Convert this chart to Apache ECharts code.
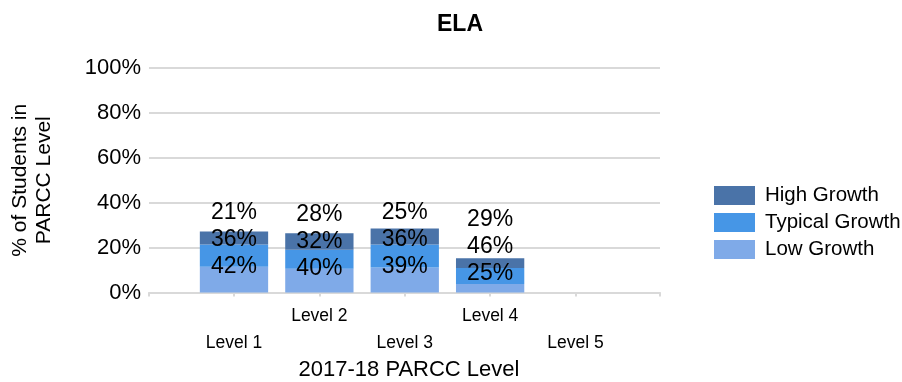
<!DOCTYPE html>
<html>
<head>
<meta charset="utf-8">
<script src="https://cdn.jsdelivr.net/npm/echarts@6/dist/echarts.min.js"></script>
<style>
  html, body { margin: 0; padding: 0; background: #fff; }
  #chart { width: 902px; height: 382px; }
</style>
</head>
<body>
<div id="chart"></div>
<script>
// 2017-18 PARCC levels on the x axis
const levels = ['Level 1', 'Level 2', 'Level 3', 'Level 4', 'Level 5'];
// share of students in each level (% of all students), '-' = no students
const levelTotals = [27.4, 26.4, 28.5, 15.3, '-'];
// growth split within each level (% of that level)
const lowGrowth = [42, 40, 39, 25, '-'];
const typicalGrowth = [36, 32, 36, 46, '-'];
const highGrowth = [21, 28, 25, 29, '-'];
const yTicks = [0, 20, 40, 60, 80, 100];

const FONT = '"Liberation Sans", Arial, sans-serif';
const colors = { high: '#4a73a8', typical: '#4696e6', low: '#7faae8' };

// segment heights = level total x growth share
function segment(shares) {
  return shares.map((s, i) => (s === '-' ? '-' : +(levelTotals[i] * s / 100).toFixed(2)));
}
const lowSeg = segment(lowGrowth);
const typSeg = segment(typicalGrowth);
const highSeg = segment(highGrowth);

// label stack anchor: top of the low segment, kept clear of the axis
const labelAnchor = lowSeg.map((v, i) => (v === '-' ? null : [i, Math.max(v, 8.2)]))
  .filter(d => d !== null);

const chart = echarts.init(document.getElementById('chart'), null, { renderer: 'canvas' });

const option = {
  animation: false,
  textStyle: { fontFamily: FONT },
  title: {
    text: 'ELA',
    left: 455,
    textAlign: 'center',
    top: 8,
    textStyle: { fontFamily: FONT, fontSize: 23, fontWeight: 'bold', color: '#000' }
  },
  legend: {
    orient: 'vertical',
    left: 709,
    top: 180,
    itemWidth: 41,
    itemHeight: 19,
    itemGap: 6,
    icon: 'rect',
    data: ['High Growth', 'Typical Growth', 'Low Growth'],
    textStyle: { fontFamily: FONT, fontSize: 20.5, lineHeight: 19, color: '#000', padding: [0, 0, 0, 5] }
  },
  grid: [
    { left: 149, right: 242, top: 68, bottom: 89.5, outerBoundsMode: 'none', containLabel: false },
    { left: 191.3, right: 283.8, top: 68, bottom: 89.5, outerBoundsMode: 'none', containLabel: false }
  ],
  xAxis: [
    {
      gridIndex: 0,
      type: 'value',
      min: 0, max: 1, interval: 1,
      axisLine: { show: true, lineStyle: { color: '#d9d9d9', width: 2 } },
      axisTick: { show: true, length: 4, lineStyle: { color: '#d9d9d9', width: 2 } },
      axisLabel: { show: false },
      splitLine: { show: false },
      name: '2017-18 PARCC Level',
      nameLocation: 'middle',
      nameGap: 66,
      nameTextStyle: { fontFamily: FONT, fontSize: 22, color: '#000', padding: [0, 0, 0, 9] }
    },
    {
      gridIndex: 1,
      type: 'category',
      data: levels,
      axisLine: { show: false },
      axisTick: { show: true, alignWithLabel: true, length: 4, lineStyle: { color: '#d9d9d9', width: 2 } },
      axisLabel: {
        interval: 0,
        margin: 10,
        fontFamily: FONT,
        fontSize: 17.5,
        color: '#000',
        lineHeight: 27,
        formatter: (v, i) => (i % 2 === 0 ? '\n' + v : v)
      }
    }
  ],
  yAxis: [
    {
      gridIndex: 0,
      type: 'value',
      min: 0, max: 100, interval: 20,
      axisLine: { show: false },
      axisTick: { show: false },
      axisLabel: {
        margin: 8,
        fontFamily: FONT,
        fontSize: 22,
        color: '#000',
        formatter: v => (yTicks.includes(v) ? v + '%' : '')
      },
      splitLine: { show: true, lineStyle: { color: '#d9d9d9', width: 2 } },
      name: '% of Students in\nPARCC Level',
      nameLocation: 'middle',
      nameRotate: 90,
      nameGap: 93,
      nameTextStyle: { fontFamily: FONT, fontSize: 21, color: '#000', lineHeight: 24 }
    },
    {
      gridIndex: 1,
      type: 'value',
      min: 0, max: 100,
      show: false
    }
  ],
  series: [
    {
      name: 'Low Growth', type: 'bar', stack: 'g',
      xAxisIndex: 1, yAxisIndex: 1,
      barCategoryGap: '20%',
      itemStyle: { color: colors.low },
      data: lowSeg
    },
    {
      name: 'Typical Growth', type: 'bar', stack: 'g',
      xAxisIndex: 1, yAxisIndex: 1,
      itemStyle: { color: colors.typical },
      data: typSeg
    },
    {
      name: 'High Growth', type: 'bar', stack: 'g',
      xAxisIndex: 1, yAxisIndex: 1,
      itemStyle: { color: colors.high },
      data: highSeg
    },
    {
      // stacked share labels: high / typical / low
      type: 'scatter',
      xAxisIndex: 1, yAxisIndex: 1,
      symbolSize: 0,
      silent: true,
      itemStyle: { opacity: 1 },
      data: labelAnchor,
      label: {
        show: true,
        position: 'inside',
        offset: [0, -27.5],
        fontFamily: FONT,
        fontSize: 23,
        lineHeight: 27,
        color: '#000',
        opacity: 1,
        textBorderWidth: 0,
        align: 'center',
        formatter: p => {
          const i = p.data[0];
          return highGrowth[i] + '%\n' + typicalGrowth[i] + '%\n' + lowGrowth[i] + '%';
        }
      }
    }
  ]
};

chart.setOption(option);
</script>
</body>
</html>
